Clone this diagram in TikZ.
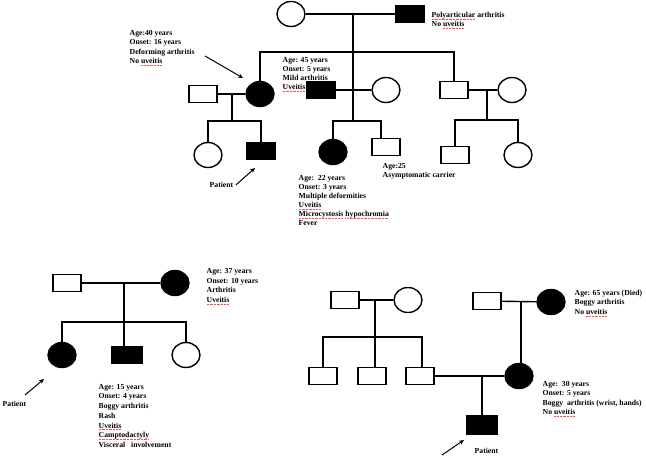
\documentclass[tikz,border=0pt]{standalone}
\usepackage{fontspec}
\setmainfont{Liberation Serif}
\usetikzlibrary{arrows.meta,shapes.geometric}
\newcommand{\spell}[1]{\setbox0=\hbox{#1}\leavevmode\rlap{\lower1.8pt\hbox to\wd0{\color{red!70}\xleaders\hbox{\rule{0.9pt}{0.4pt}\kern0.5pt}\hfill}}\box0\relax}

\begin{document}
\begin{tikzpicture}[x=1pt, y=-1pt, line width=1.4pt,
  male/.style={draw, rectangle, minimum width=28pt, minimum height=17pt, inner sep=0pt},
  female/.style={draw, ellipse, minimum width=28pt, minimum height=25pt, inner sep=0pt},
  ill/.style={fill=black},
  info/.style={anchor=north west, inner sep=0pt, align=left, font=\bfseries\fontsize{7.7}{9.4}\selectfont},
  pointer/.style={-{Stealth[length=5pt,width=4.5pt]}, line width=1pt}
]
  \useasboundingbox (0,0) rectangle (646,458);

  % top pedigree
  \node[female]    (gm)   at (291,14)  {};
  \node[male, ill] (gf)   at (410,14)  {};
  \node[male]      (dad)  at (203,94)  {};
  \node[female, ill] (mom) at (260,94) {};
  \node[male, ill] (unc)  at (321,90)  {};
  \node[female]    (uwf)  at (386,90)  {};
  \node[male]      (son)  at (454,90)  {};
  \node[female]    (swf)  at (512,90)  {};
  \node[female]    (sis1) at (208,155) {};
  \node[male, ill] (pat1) at (261,151) {};
  \node[female, ill] (cou) at (333,152) {};
  \node[male]      (car)  at (386,147) {};
  \node[male]      (gs)   at (455,155) {};
  \node[female]    (gd)   at (518,155) {};

  \coordinate (gmid) at (353,14);
  \coordinate (gbar) at (353,52);
  \coordinate (umid) at (353,90);
  \coordinate (ubar) at (353,121);
  \coordinate (mmid) at (232,94);
  \coordinate (mbar) at (232,121);
  \coordinate (smid) at (487,90);
  \coordinate (sbar) at (487,120);

  \draw (gm) -- (gf);
  \draw (dad) -- (mom);
  \draw (unc) -- (uwf);
  \draw (son) -- (swf);
  \draw (gmid) -- (gbar) -- (umid) -- (ubar);
  \draw (mom.north) |- (gbar) -| (son.north);
  \draw (mmid) -- (mbar);
  \draw (sis1.north) |- (mbar) -| (pat1.north);
  \draw (cou.north) |- (ubar) -| ([xshift=-5pt]car.north);
  \draw (smid) -- (sbar);
  \draw (gs.north) |- (sbar) -| (gd.north);

  \node[info] (gftxt)  at (431,11.5) {\spell{Polyarticular} arthritis\\No \spell{uveitis}};
  \node[info] (momtxt) at (129,29.5) {Age:40 years\\Onset: 16 years\\Deforming arthritis\\No \spell{uveitis}};
  \node[info, font=\bfseries\fontsize{7.7}{9}\selectfont] (unctxt) at (282,56.5) {Age: 45 years\\Onset: 5 years\\Mild arthritis\\\spell{Uveitis}};
  \node[info] (lab1)   at (209,181.5) {Patient};
  \node[info, font=\bfseries\fontsize{7.7}{9.1}\selectfont] (coutxt) at (298,174.5) {Age:\ \ 22 years\\Onset: 3 years\\Multiple deformities\\\spell{Uveitis}\\\spell{Microcystosis} \spell{hypochromia}\\Fever};
  \node[info] (cartxt) at (382,162.5) {Age:25\\Asymptomatic carrier};

  \coordinate (a1s) at (205,56);
  \coordinate (a1e) at (243,78);
  \coordinate (a2e) at (255,168);
  \draw[pointer] (a1s) -- (a1e);
  \draw[pointer] ([xshift=2pt]lab1.east) -- (a2e);

  % bottom left pedigree
  \node[male]        (blf) at (67,283)  {};
  \node[female, ill] (blm) at (175,283) {};
  \node[female, ill] (blp) at (62,355)  {};
  \node[male, ill, minimum width=30pt] (blb) at (127,355) {};
  \node[female]      (blg) at (186,355) {};
  \coordinate (blmid) at (124,283);
  \coordinate (blbar) at (124,322);

  \draw (blf) -- (blm);
  \draw (blmid) -- (blbar);
  \draw (blp.north) |- (blbar) -| (blg.north);
  \draw (blbar) -- (blbar |- blb.north);

  \node[info, font=\bfseries\fontsize{7.7}{9.7}\selectfont] (blmtxt) at (206,267.5) {Age: 37 years\\Onset: 10 years\\Arthritis\\\spell{Uveitis}};
  \node[info, font=\bfseries\fontsize{7.7}{9.7}\selectfont] (blbtxt) at (98,383.5) {Age: 15 years\\Onset: 4 years\\Boggy arthritis\\Rash\\\spell{Uveitis}\\\spell{Camptodactyly}\\Visceral\ \ \ involvement};
  \node[info] (lab2) at (2,400.5) {Patient};
  \coordinate (a3s) at (25,395);
  \coordinate (a3e) at (44,379);
  \draw[pointer] (a3s) -- (a3e);

  % bottom right pedigree
  \node[male]   (rf1) at (345,300) {};
  \node[female] (rm1) at (408,300) {};
  \node[male]   (k1)  at (323,376) {};
  \node[male]   (k2)  at (372,376) {};
  \node[male]   (k3)  at (420,376) {};
  \node[male]   (rf2) at (487,301) {};
  \node[female, ill] (rm2) at (551,302) {};
  \node[female, ill] (dau) at (519,376) {};
  \node[male, ill, minimum width=30pt, minimum height=18pt] (pat3) at (482,425) {};
  \coordinate (rmid1) at (375,300);
  \coordinate (rbar)  at (375,337);
  \coordinate (rmid2) at (521,301);
  \coordinate (rmid3) at (482,376);

  \draw (rf1) -- (rm1);
  \draw (rmid1) -- (rbar);
  \draw (k1.north) |- (rbar) -| ([xshift=2pt]k3.north);
  \draw (rbar) -- (rbar |- k2.north);
  \draw (rf2) -- (rm2);
  \draw (rmid2) -- (rmid2 |- dau.north);
  \draw (k3) -- (dau);
  \draw (rmid3) -- (pat3);

  \node[info] (rm2txt) at (574,289.5) {Age: 65 years (Died)\\Boggy arthritis\\No \spell{uveitis}};
  \node[info] (dautxt) at (542,380.5) {Age:\ \ 30 years\\Onset: 5 years\\Boggy\ \ arthritis (wrist, hands)\\No \spell{uveitis}};
  \node[info] (lab3) at (474,447.5) {Patient};
  \coordinate (a4s) at (442,455);
  \coordinate (a4e) at (464,440);
  \draw[pointer] (a4s) -- (a4e);
\end{tikzpicture}
\end{document}
